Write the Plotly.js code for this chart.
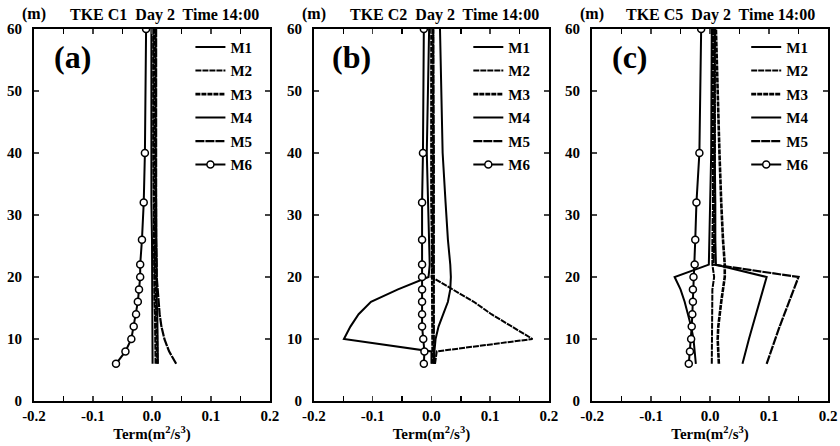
<!DOCTYPE html>
<html><head><meta charset="utf-8">
<script src="https://cdn.plot.ly/plotly-3.0.1.min.js"></script>
<style>html,body{margin:0;padding:0;background:#fff;}#chart{width:840px;height:446px;}</style>
</head><body><div id="chart"></div>
<script>
// Heights (m)
const heights = [6, 8, 10, 12, 14, 16, 18, 20, 22, 26, 32, 40, 60];
const seriesNames = ['M1', 'M2', 'M3', 'M4', 'M5', 'M6'];
const panelTitles = ['TKE C1&nbsp; Day 2&nbsp; Time 14:00', 'TKE C2&nbsp; Day 2&nbsp; Time 14:00', 'TKE C5&nbsp; Day 2&nbsp; Time 14:00'];
const panelLetters = ['(a)', '(b)', '(c)'];
const xTickVals = [-0.2, -0.1, 0, 0.1, 0.2];
const xTickText = ['-0.2', '-0.1', '0.0', '0.1', '0.2'];
const yTickVals = [0, 10, 20, 30, 40, 50, 60];

// Panel (a) C1
const c1_M1 = [0.001, 0.001, 0.001, 0.001, 0.001, 0.000, 0.000, 0.000, 0.000, 0.000, -0.001, -0.001, -0.001];
const c1_M2 = [0.006, 0.006, 0.005, 0.005, 0.005, 0.004, 0.004, 0.004, 0.003, 0.003, 0.003, 0.002, 0.002];
const c1_M3 = [0.009, 0.009, 0.008, 0.008, 0.007, 0.007, 0.006, 0.006, 0.005, 0.005, 0.005, 0.004, 0.004];
const c1_M4 = [0.010, 0.010, 0.010, 0.009, 0.009, 0.008, 0.008, 0.008, 0.007, 0.007, 0.007, 0.006, 0.006];
const c1_M5 = [0.041, 0.029, 0.021, 0.016, 0.013, 0.011, 0.009, 0.008, 0.008, 0.007, 0.007, 0.007, 0.007];
const c1_M6 = [-0.061, -0.045, -0.035, -0.031, -0.027, -0.024, -0.022, -0.020, -0.020, -0.017, -0.014, -0.012, -0.010];

// Panel (b) C2
const c2_M1 = [0.000, 0.000, -0.149, -0.138, -0.124, -0.103, -0.057, -0.005, -0.003, -0.004, -0.006, -0.008, -0.004];
const c2_M2 = [0.006, 0.009, 0.172, 0.138, 0.102, 0.072, 0.037, 0.000, 0.002, 0.002, 0.003, 0.003, 0.003];
const c2_M3 = [0.002, 0.002, 0.002, 0.002, 0.001, 0.001, 0.001, 0.001, 0.001, 0.001, 0.000, 0.000, 0.000];
const c2_M4 = [0.005, 0.005, 0.007, 0.012, 0.020, 0.028, 0.032, 0.033, 0.032, 0.028, 0.024, 0.019, 0.0145];
const c2_M5 = [0.004, 0.004, 0.005, 0.005, 0.004, 0.004, 0.004, 0.004, 0.004, 0.004, 0.004, 0.004, 0.003];
const c2_M6 = [-0.013, -0.012, -0.014, -0.016, -0.016, -0.016, -0.016, -0.016, -0.016, -0.016, -0.016, -0.0145, -0.013];

// Panel (c) C5
const c5_M1 = [-0.024, -0.026, -0.028, -0.032, -0.037, -0.043, -0.050, -0.060, -0.002, -0.001, 0.000, 0.002, 0.003];
const c5_M2 = [0.003, 0.003, 0.003, 0.003, 0.003, 0.003, 0.004, 0.007, 0.004, 0.004, 0.005, 0.005, 0.005];
const c5_M3 = [0.015, 0.014, 0.013, 0.014, 0.016, 0.019, 0.022, 0.025, 0.025, 0.022, 0.019, 0.016, 0.010];
const c5_M4 = [0.055, 0.060, 0.066, 0.072, 0.078, 0.084, 0.090, 0.096, 0.010, 0.009, 0.009, 0.008, 0.008];
const c5_M5 = [0.096, 0.103, 0.111, 0.118, 0.126, 0.134, 0.142, 0.150, 0.006, 0.007, 0.007, 0.008, 0.008];
const c5_M6 = [-0.036, -0.034, -0.032, -0.031, -0.030, -0.029, -0.029, -0.028, -0.026, -0.025, -0.023, -0.018, -0.015];

const panels = [
  [c1_M1, c1_M2, c1_M3, c1_M4, c1_M5, c1_M6],
  [c2_M1, c2_M2, c2_M3, c2_M4, c2_M5, c2_M6],
  [c5_M1, c5_M2, c5_M3, c5_M4, c5_M5, c5_M6]
];

const FONT = "'Liberation Serif'";
const styles = [
  {width: 2, dash: 'solid'},
  {width: 2, dash: '6px,1px'},
  {width: 2.6, dash: '5px,1px'},
  {width: 2, dash: 'solid'},
  {width: 2.2, dash: '9px,1px'},
  {width: 2, dash: 'solid'}
];

const traces = [];
panels.forEach((series, p) => {
  const ax = p === 0 ? '' : String(p + 1);
  const lg = p === 0 ? 'legend' : 'legend' + (p + 1);
  series.forEach((vals, i) => {
    const t = {
      x: vals, y: heights, type: 'scatter',
      mode: i === 5 ? 'lines+markers' : 'lines',
      name: seriesNames[i],
      xaxis: 'x' + ax, yaxis: 'y' + ax,
      legend: lg, legendgroup: 'g' + p + i,
      line: {color: '#000', width: styles[i].width, dash: styles[i].dash},
      hoverinfo: 'skip'
    };
    if (i === 5) t.marker = {symbol: 'circle', size: 7, color: '#fff', line: {color: '#000', width: 1.5}};
    traces.push(t);
  });
});

const doms = [[0, 0.2972], [0.3526, 0.6486], [0.7028, 1]];
const layout = {
  width: 840, height: 446,
  margin: {l: 34, r: 12, t: 29, b: 45},
  paper_bgcolor: '#fff', plot_bgcolor: '#fff',
  font: {family: FONT, size: 15, color: '#000'},
  annotations: [],
  showlegend: true
};
const legX = [0.197, 0.547, 0.897];
doms.forEach((d, p) => {
  const ax = p === 0 ? '' : String(p + 1);
  layout['xaxis' + ax] = {
    domain: d, range: [-0.2, 0.2], anchor: 'y' + ax,
    tickvals: xTickVals, ticktext: xTickText, ticks: 'inside', ticklen: 5, tickwidth: 1.5,
    minor: {dtick: 0.05, tick0: 0, ticks: 'inside', ticklen: 5, tickwidth: 1.5, tickcolor: '#000', showgrid: false},
    showline: true, linewidth: 2, linecolor: '#000', mirror: 'ticks',
    showgrid: false, zeroline: false, ticklabelstandoff: 0,
    tickfont: {family: FONT, size: 15, color: '#000', weight: 'bold'},
    title: {text: 'Term(m<sup>2</sup>/s<sup>3</sup>)', font: {family: FONT, size: 15, color: '#000', weight: 'bold'}, standoff: 4}
  };
  layout['yaxis' + ax] = {
    domain: [0, 1], range: [0, 60], anchor: 'x' + ax,
    tickvals: yTickVals, ticks: 'inside', ticklen: 5, tickwidth: 1.5,
    showline: true, linewidth: 2, linecolor: '#000', mirror: 'ticks',
    showgrid: false, zeroline: false, ticklabelstandoff: 7,
    tickfont: {family: FONT, size: 15, color: '#000', weight: 'bold'}
  };
  const lg = p === 0 ? 'legend' : 'legend' + (p + 1);
  layout[lg] = {
    x: legX[p], y: 0.995, xanchor: 'left', yanchor: 'top',
    bgcolor: 'rgba(0,0,0,0)', borderwidth: 0,
    font: {family: FONT, size: 15, color: '#000', weight: 'bold'},
    tracegroupgap: 1, itemwidth: 30
  };
});

const titleX = [0.1644, 0.5164, 0.8646];
const letterX = [0.048, 0.400, 0.7506];
const mX = [0.0, 0.3526, 0.7028];
for (let p = 0; p < 3; p++) {
  layout.annotations.push({
    xref: 'paper', yref: 'paper', x: titleX[p], y: 1.0376, xanchor: 'center', yanchor: 'middle',
    text: panelTitles[p], showarrow: false,
    font: {family: FONT, size: 16, color: '#000', weight: 'bold'}
  });
  layout.annotations.push({
    xref: 'paper', yref: 'paper', x: letterX[p], y: 0.925, xanchor: 'center', yanchor: 'middle',
    text: panelLetters[p], showarrow: false,
    font: {family: FONT, size: 32, color: '#000', weight: 'bold'}
  });
  layout.annotations.push({
    xref: 'paper', yref: 'paper', x: mX[p], y: 1.04, xanchor: 'center', yanchor: 'middle',
    text: '(m)', showarrow: false,
    font: {family: FONT, size: 16, color: '#000', weight: 'bold'}
  });
}

Plotly.newPlot('chart', traces, layout, {displayModeBar: false, staticPlot: true});
</script>
</body></html>
